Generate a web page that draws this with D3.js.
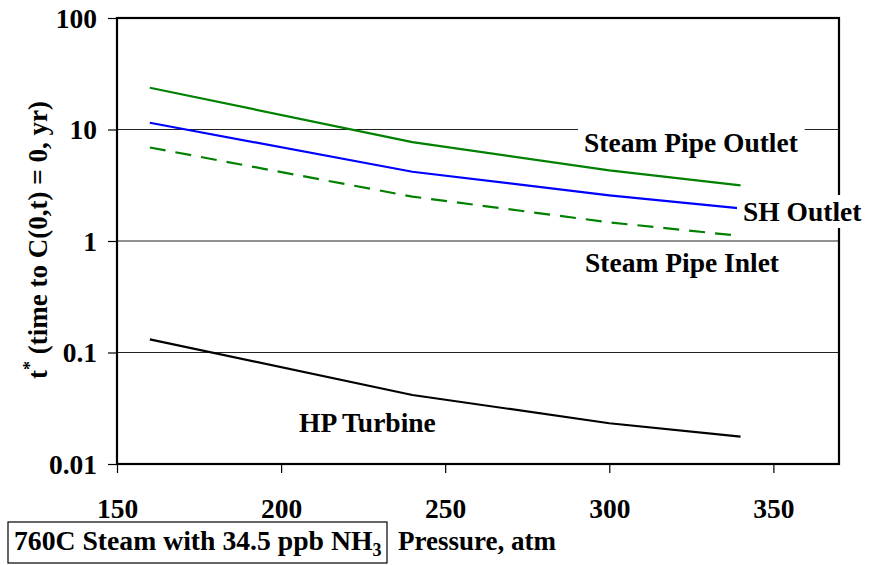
<!DOCTYPE html>
<html>
<head>
<meta charset="utf-8">
<script src="https://cdn.jsdelivr.net/npm/d3@7"></script>
<style>
  body { margin: 0; background: #fff; }
  text { font-family: "Liberation Serif", "Times New Roman", serif; font-weight: bold; fill: #000; }
</style>
</head>
<body>
<script>
// pressure (atm) at which each curve was evaluated
const pressures = [160, 240, 300, 340]

// t* in years
const steamPipeOutlet = [23.7, 7.7, 4.3, 3.15]
const shOutlet = [11.5, 4.18, 2.57, 1.96]
const steamPipeInlet = [6.9, 2.5, 1.47, 1.11]
const hpTurbine = [0.131, 0.0416, 0.0232, 0.0176]

const xTicks = [150, 200, 250, 300, 350]
const yTicks = [0.01, 0.1, 1, 10, 100]

const width = 870
const height = 565

const svg = d3.select("body").append("svg")
    .attr("width", width)
    .attr("height", height)

const x = d3.scaleLinear().domain([150, 370]).range([117, 839])
const y = d3.scaleLog().domain([0.01, 100]).range([464, 18])

// gridlines
svg.append("g")
    .selectAll("line")
    .data([0.1, 1, 10])
    .join("line")
    .attr("x1", x(150)).attr("x2", x(370))
    .attr("y1", d => y(d)).attr("y2", d => y(d))
    .attr("stroke", "#222")
    .attr("stroke-width", 1)

// axes (ticks only, labels drawn big below)
const yAxis = d3.axisLeft(y).tickValues(yTicks).tickSize(9).tickFormat(d => d)
const gy = svg.append("g").attr("transform", `translate(${x(150)},0)`).call(yAxis)
gy.select(".domain").remove()
gy.selectAll("line").attr("stroke", "#000").attr("stroke-width", 1.2)
gy.selectAll("text")
    .attr("x", -20)
    .attr("dy", "0.33em")
    .style("font-size", "27.5px")
    .style("font-family", "Liberation Serif")
    .style("font-weight", "bold")

const xAxis = d3.axisBottom(x).tickValues(xTicks).tickSize(9).tickFormat(d => d)
const gx = svg.append("g").attr("transform", `translate(0,${y(0.01)})`).call(xAxis)
gx.select(".domain").remove()
gx.selectAll("line").attr("stroke", "#000").attr("stroke-width", 1.2)
gx.selectAll("text")
    .attr("y", 34)
    .attr("dy", "0.71em")
    .style("font-size", "27.5px")
    .style("font-family", "Liberation Serif")
    .style("font-weight", "bold")

// plot border
svg.append("rect")
    .attr("x", x(150)).attr("y", y(100))
    .attr("width", x(370) - x(150)).attr("height", y(0.01) - y(100))
    .attr("fill", "none")
    .attr("stroke", "#000")
    .attr("stroke-width", 2.2)

const line = d3.line()
    .x((d, i) => x(pressures[i]))
    .y(d => y(d))

const series = [
    { values: steamPipeOutlet, color: "#008000", dash: null },
    { values: shOutlet, color: "#0000ff", dash: null },
    { values: steamPipeInlet, color: "#008000", dash: "16,10" },
    { values: hpTurbine, color: "#000000", dash: null }
]

svg.append("g")
    .selectAll("path")
    .data(series)
    .join("path")
    .attr("d", d => line(d.values))
    .attr("fill", "none")
    .attr("stroke", d => d.color)
    .attr("stroke-width", 2.2)
    .attr("stroke-dasharray", d => d.dash)

// curve labels with white backing
const labels = [
    { text: "Steam Pipe Outlet", x: 584, y: 152 },
    { text: "SH Outlet", x: 743, y: 221 },
    { text: "Steam Pipe Inlet", x: 585, y: 272 },
    { text: "HP Turbine", x: 299, y: 432 }
]
labels.forEach(l => {
    const g = svg.append("g")
    const t = g.append("text")
        .attr("x", l.x).attr("y", l.y)
        .style("font-size", "27.5px")
        .text(l.text)
    const b = t.node().getBBox()
    g.insert("rect", "text")
        .attr("x", b.x - 6).attr("y", b.y - 1)
        .attr("width", b.width + 12).attr("height", b.height + 2)
        .attr("fill", "#fff")
})

// y axis title
const yt = svg.append("text")
    .attr("transform", "translate(47,240) rotate(-90)")
    .attr("text-anchor", "middle")
    .style("font-size", "27px")
yt.append("tspan").text("t")
yt.append("tspan").attr("dy", -11).style("font-size", "18px").text("*")
yt.append("tspan").attr("dy", 11).text(" (time to C(0,t) = 0, yr)")

// x axis title
svg.append("text")
    .attr("x", 398).attr("y", 550)
    .style("font-size", "27px")
    .text("Pressure, atm")

// condition box
svg.append("rect")
    .attr("x", 8).attr("y", 522)
    .attr("width", 379).attr("height", 41)
    .attr("fill", "#fff")
    .attr("stroke", "#000")
    .attr("stroke-width", 1.2)
const note = svg.append("text")
    .attr("x", 14).attr("y", 550)
    .style("font-size", "27.7px")
note.append("tspan").text("760C Steam with 34.5 ppb NH")
note.append("tspan").attr("dy", 6).style("font-size", "18px").text("3")
</script>
</body>
</html>
